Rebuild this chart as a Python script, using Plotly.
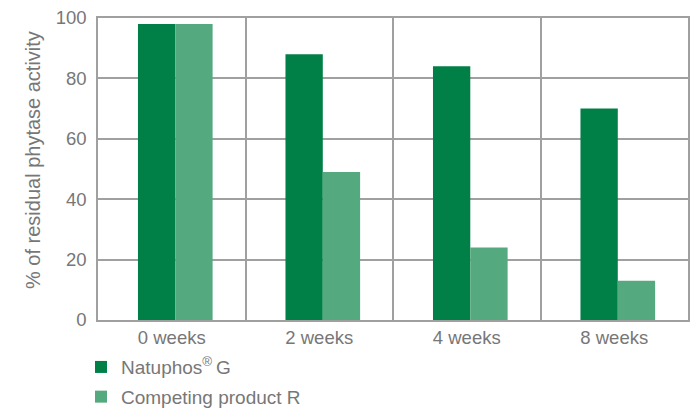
import plotly.graph_objects as go

categories = ["0 weeks", "2 weeks", "4 weeks", "8 weeks"]
natuphos = [98, 88, 84, 70]
competing = [98, 49, 24, 13]
series_names = ["Natuphos<sup>®</sup>\u2009G", "Competing product R"]
y_ticks = [0, 20, 40, 60, 80, 100]
y_title = "% of residual phytase activity"

dark = "#008046"
light = "#55a97f"
grey_text = "#777777"
grid = "#a0a0a0"

fig = go.Figure()
fig.add_trace(go.Bar(x=categories, y=natuphos, name=series_names[0], legendgroup="a",
                     marker=dict(color=dark, line=dict(width=0)),
                     width=0.253, offset=-0.229))
fig.add_trace(go.Bar(x=categories, y=competing, name=series_names[1], legendgroup="b",
                     marker=dict(color=light, line=dict(width=0)),
                     width=0.253, offset=0.024))

fig.add_annotation(text=y_title, textangle=-90, xref="paper", yref="paper",
                   x=-0.110, y=0.53, xanchor="center", yanchor="middle", showarrow=False,
                   font=dict(size=20, color=grey_text))

fig.update_layout(
    width=692, height=402,
    margin=dict(l=90, r=12, t=10, b=90, autoexpand=False),
    paper_bgcolor="white", plot_bgcolor="white",
    font=dict(family="Liberation Sans, Arial, sans-serif", color=grey_text, size=18.5),
    showlegend=True,
    legend=dict(orientation="v", x=-0.0288, xanchor="left", y=-0.093, yanchor="top",
                font=dict(size=19, color=grey_text), tracegroupgap=2,
                bgcolor="rgba(0,0,0,0)"),
    xaxis=dict(type="category", tickson="boundaries", showgrid=True, gridcolor=grid,
               gridwidth=1.5, showline=True, linecolor=grid, linewidth=1.5, mirror=True,
               ticks="", tickfont=dict(size=18.5, color=grey_text), range=[-0.5, 3.5]),
    yaxis=dict(range=[0, 100], tickvals=y_ticks, showgrid=True, gridcolor=grid, gridwidth=1.5,
               showline=True, linecolor=grid, linewidth=1.5, mirror=True, zeroline=False,
               ticks="", ticklabelstandoff=6, ticklabeloverflow="allow",
               tickfont=dict(size=18.5, color=grey_text)),
)

fig.write_html("out.html")
